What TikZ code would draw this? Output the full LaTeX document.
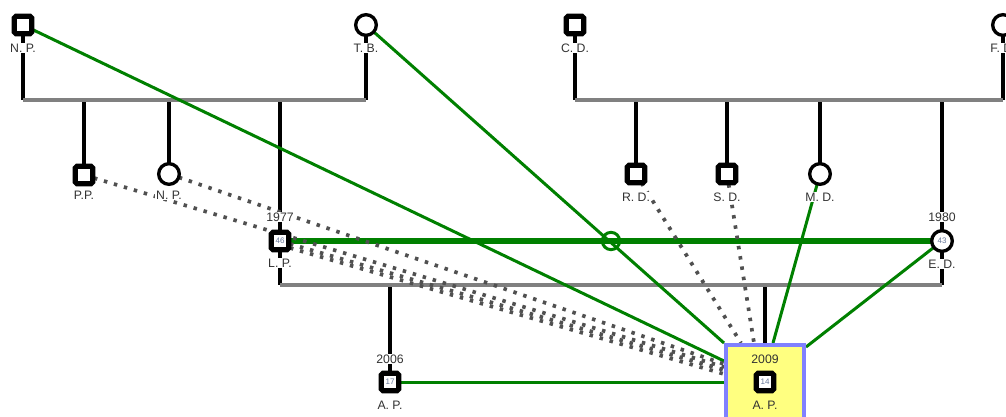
\documentclass[tikz,border=0pt]{standalone}
\usepackage{fontspec}
\setmainfont{Liberation Sans}
\usetikzlibrary{backgrounds,calc}
\definecolor{gline}{HTML}{008000}
\definecolor{cgray}{HTML}{808080}
\definecolor{dotc}{HTML}{505050}
\definecolor{boxfill}{HTML}{FFFF80}
\definecolor{boxedge}{HTML}{8080FF}
\definecolor{txt}{HTML}{333333}
\definecolor{agec}{HTML}{667799}
\tikzset{
 male/.style={draw=black, fill=white, line width=3.9pt, minimum size=13pt, inner sep=0pt, rounded corners=1.2pt, font=\fontsize{6}{6}\selectfont, text=agec},
 female/.style={circle, draw=black, fill=white, line width=2.5pt, minimum size=15.5pt, inner sep=0pt, font=\fontsize{6}{6}\selectfont, text=agec},
 lbl/.style={fill=white, inner sep=0.6pt, text=txt, font=\fontsize{9.2}{10}\selectfont},
 vline/.style={line width=3pt, black},
 cline/.style={line width=3pt, cgray},
 rel/.style={line width=2.25pt, gline},
 marr/.style={line width=4.5pt, gline},
 dotrel/.style={line width=2.8pt, dotc, dash pattern=on 2.6pt off 5.2pt},
 mring/.style={circle, draw=gline, line width=2.25pt, minimum size=13pt, inner sep=0pt},
 focus/.style={draw=boxedge, fill=boxfill, line width=3pt, minimum width=58.5pt, minimum height=57pt, inner sep=0pt}
}
\begin{document}
\begin{tikzpicture}[x=0.75pt, y=-0.75pt]
\useasboundingbox (0,0) rectangle (1006,417);
% top generation
\node[male] (NPa) at (23,25) {};
\node[lbl] (lNPa) at (23,48) {N. P.};
\node[female] (TB) at (366,25) {};
\node[lbl] (lTB) at (366,48) {T. B.};
\node[male] (CD) at (575,25) {};
\node[lbl] (lCD) at (575,48) {C. D.};
\node[female] (FD) at (1003,25) {};
\node[lbl] (lFD) at (1003,48) {F. D.};
% second generation
\node[male] (PP) at (84,175) {};
\node[lbl] (lPP) at (84,195) {P.P.};
\node[female] (NPb) at (169,174) {};
\node[lbl] (lNPb) at (169,195) {N. P.};
\node[lbl] (yLP) at (280,217) {1977};
\node[male] (LP) at (280,241) {46};
\node[lbl] (lLP) at (280,263) {L. P.};
\node[male] (RD) at (636,174) {};
\node[lbl] (lRD) at (636,197) {R. D.};
\node[male] (SD) at (727,174) {};
\node[lbl] (lSD) at (727,197) {S. D.};
\node[female] (MD) at (820,174) {};
\node[lbl] (lMD) at (820,197) {M. D.};
\node[lbl] (yED) at (942,217) {1980};
\node[female] (ED) at (942,241) {43};
\node[lbl] (lED) at (942,264) {E. D.};
\node[mring] (mc) at (611,241) {};
% third generation
\node[lbl] (yAPa) at (390,359) {2006};
\node[male] (APa) at (390,382) {17};
\node[lbl] (lAPa) at (390,405) {A. P.};
\node[focus] (box) at (765,383) {};
\node[lbl, fill=none] (yAPb) at (765,359) {2009};
\node[male] (APb) at (765,382) {14};
\node[lbl, fill=none] (lAPb) at (765,405) {A. P.};
% coordinates
\coordinate (sL1) at (23,100);
\coordinate (sR1) at (366,100);
\coordinate (sL2) at (575,100);
\coordinate (sR2) at (1003,100);
\coordinate (cPP) at (84,100);
\coordinate (cNPb) at (169,100);
\coordinate (cLP) at (280,100);
\coordinate (cRD) at (636,100);
\coordinate (cSD) at (727,100);
\coordinate (cMD) at (820,100);
\coordinate (cED) at (942,100);
\coordinate (fL) at (280,285);
\coordinate (fR) at (942,285);
\coordinate (cAPa) at (390,285);
\coordinate (cAPb) at (765,285);
\begin{pgfonlayer}{background}
\draw[vline] (NPa.center) -- (sL1);
\draw[vline] (TB.center) -- (sR1);
\draw[vline] (CD.center) -- (sL2);
\draw[vline] (FD.center) -- (sR2);
\draw[vline] (cPP) -- (PP.center);
\draw[vline] (cNPb) -- (NPb.center);
\draw[vline] (cLP) -- (LP.center) -- (fL);
\draw[vline] (cRD) -- (RD.center);
\draw[vline] (cSD) -- (SD.center);
\draw[vline] (cMD) -- (MD.center);
\draw[vline] (cED) -- (ED.center) -- (fR);
\draw[vline] (cAPa) -- (APa.center);
\draw[vline] (cAPb) -- (box.north);
\draw[cline] (sL1) -- (sR1);
\draw[cline] (sL2) -- (sR2);
\draw[cline] (fL) -- (fR);
\draw[marr] (LP.center) -- (ED.center);
\draw[rel] (NPa.center) -- ($(box.north west)+(0,18)$);
\draw[rel] (TB.center) -- (box.north west);
\draw[rel] (MD.center) -- ($(box.north west)+(49,0)$);
\draw[rel] (ED.center) -- ($(box.north east)+(0,4)$);
\draw[rel] (APa.center) -- (APa.center -| box.west);
\draw[dotrel] (PP.center) -- ($(box.north west)+(0,24)$);
\draw[dotrel] (NPb.center) -- ($(box.north west)+(0,21)$);
\draw[dotrel] (LP.center) -- ($(box.north west)+(0,27)$);
\draw[dotrel] ($(LP.center)+(0,4)$) -- ($(box.north west)+(0,31)$);
\draw[dotrel] (RD.center) -- ($(box.north west)+(17,0)$);
\draw[dotrel] (SD.center) -- ($(box.north west)+(30,0)$);
\end{pgfonlayer}
\end{tikzpicture}
\end{document}
